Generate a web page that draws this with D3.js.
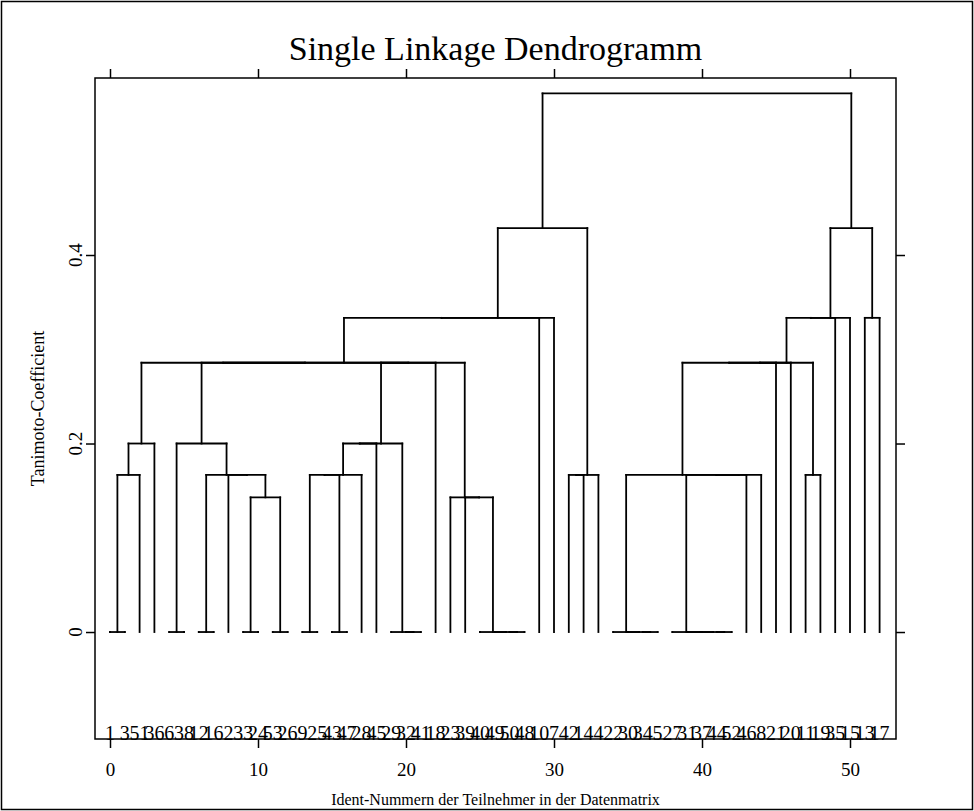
<!DOCTYPE html>
<html>
<head>
<meta charset="utf-8">
<script src="https://cdn.jsdelivr.net/npm/d3@7"></script>
<style>
  html, body { margin: 0; padding: 0; background: #fff; }
  svg { display: block; }
  text { font-family: "Liberation Serif", "DejaVu Serif", serif; fill: #000; }
</style>
</head>
<body>
<script>
// ---- data ----
const chartTitle = "Single Linkage Dendrogramm";
const xTitle = "Ident-Nummern der Teilnehmer in der Datenmatrix";
const yTitle = "Tanimoto-Coefficient";

// leaf labels in display order (leaf positions 0..52)
const leafLabels = [1, 3, 51, 36, 6, 38, 12, 16, 2, 33, 24, 53, 26, 9, 25, 43, 47, 28,
  45, 29, 32, 41, 18, 23, 39, 40, 49, 50, 48, 10, 7, 42, 14, 4, 22, 30,
  34, 5, 27, 31, 37, 44, 52, 46, 8, 21, 20, 11, 19, 35, 15, 13, 17];

// hclust-style merges: negative = leaf (-(position+1)), positive = earlier merge step (1-based)
const mergeA = [-1, -5, -7, -10, -12, -14, -16, -21, -20, -28, -27, -26, -37, -36, -35, -42, -41, -40, -39,
  4, -25, -24,
  1, -9, 3, 6, 26, -32, 28, 19, 30, 15, -48,
  23, 2, 27, 36,
  37, 35, 34, 40, 32, 42, 43,
  41, 45, 44, 47, -52,
  46, 48,
  50];
const mergeB = [-2, -6, -8, -11, -13, -15, -17, -22, 8, -29, 10, 11, -38, 13, 14, -43, 16, 17, 18,
  5, 12, 21,
  -3, 20, 24, 7, -18, -33, -34, -44, -45, 31, -49,
  -4, 25, -19, 9,
  -23, 38, 39, 22, -46, -47, 33,
  -30, -31, -50, -51, -53,
  29, 49,
  51];
const mergeHeight = [0, 0, 0, 0, 0, 0, 0, 0, 0, 0, 0, 0, 0, 0, 0, 0, 0, 0, 0,
  1/7, 1/7, 1/7,
  1/6, 1/6, 1/6, 1/6, 1/6, 1/6, 1/6, 1/6, 1/6, 1/6, 1/6,
  0.2, 0.2, 0.2, 0.2,
  2/7, 2/7, 2/7, 2/7, 2/7, 2/7, 2/7,
  1/3, 1/3, 1/3, 1/3, 1/3,
  3/7, 3/7,
  4/7];

const xTicks = [0, 10, 20, 30, 40, 50];
const yTicks = [0, 0.2, 0.4];
const yTickLabels = ["0", "0.2", "0.4"];

// ---- layout ----
const W = 974, H = 811;
const box = { left: 95, right: 896, top: 78, bottom: 739 };

const svg = d3.select("body").append("svg").attr("width", W).attr("height", H);

svg.append("rect").attr("x", 1.5).attr("y", 1.5).attr("width", W - 3).attr("height", H - 3)
  .attr("fill", "none").attr("stroke", "#000").attr("stroke-width", 1.5);

const x = d3.scaleLinear().domain([-1.0135, 53.108]).range([box.left, box.right]);
const y = d3.scaleLinear().domain([-0.1135, 0.5878]).range([box.bottom, box.top]);

// compute node positions
const nodeX = [], nodeH = [];
function childPos(c) {
  if (c < 0) return { x: -c - 1, h: 0 };
  return { x: nodeX[c - 1], h: nodeH[c - 1] };
}
const segs = [];
mergeA.forEach((a, i) => {
  const pa = childPos(a), pb = childPos(mergeB[i]);
  const h = mergeHeight[i];
  nodeX[i] = (pa.x + pb.x) / 2;
  nodeH[i] = h;
  segs.push([pa.x, pa.h, pa.x, h]);
  segs.push([pb.x, pb.h, pb.x, h]);
  segs.push([pa.x, h, pb.x, h]);
});

const g = svg.append("g");
g.selectAll("line.seg").data(segs).join("line")
  .attr("class", "seg")
  .attr("x1", d => x(d[0])).attr("y1", d => y(d[1]))
  .attr("x2", d => x(d[2])).attr("y2", d => y(d[3]))
  .attr("stroke", "#000").attr("stroke-width", 1.8).attr("stroke-linecap", "square");

// box
svg.append("rect").attr("x", box.left).attr("y", box.top)
  .attr("width", box.right - box.left).attr("height", box.bottom - box.top)
  .attr("fill", "none").attr("stroke", "#000").attr("stroke-width", 1.5);

// axes
const tick = 9;
const axB = d3.axisBottom(x).tickValues(xTicks).tickSize(tick).tickPadding(15).tickFormat(d3.format("d"));
const axT = d3.axisTop(x).tickValues(xTicks).tickSize(tick).tickFormat("");
const axL = d3.axisLeft(y).tickValues(yTicks).tickSize(tick).tickFormat("");
const axR = d3.axisRight(y).tickValues(yTicks).tickSize(tick).tickFormat("");

function style(sel) {
  sel.select(".domain").remove();
  sel.selectAll(".tick line").attr("stroke", "#000").attr("stroke-width", 1.5);
  sel.selectAll("text").style("font-family", "Liberation Serif, serif").style("font-size", "19px").attr("fill", "#000");
}
svg.append("g").attr("transform", `translate(0,${box.bottom})`).call(axB).call(style);
svg.append("g").attr("transform", `translate(0,${box.top})`).call(axT).call(style);
svg.append("g").attr("transform", `translate(${box.left},0)`).call(axL).call(style);
svg.append("g").attr("transform", `translate(${box.right},0)`).call(axR).call(style);

// y tick labels (rotated)
svg.selectAll("text.ytl").data(yTicks).join("text")
  .attr("class", "ytl")
  .attr("transform", (d) => `translate(82,${y(d)}) rotate(-90)`)
  .attr("text-anchor", "middle")
  .style("font-size", "19px")
  .text((d, i) => yTickLabels[i]);

// leaf labels
svg.selectAll("text.leaf").data(leafLabels).join("text")
  .attr("class", "leaf")
  .attr("x", (d, i) => x(i))
  .attr("y", box.bottom + 1)
  .attr("text-anchor", "middle")
  .style("font-size", "20px")
  .text(d => d);

// titles
svg.append("text").attr("x", (box.left + box.right) / 2).attr("y", 60)
  .attr("text-anchor", "middle").style("font-size", "34px").text(chartTitle);
svg.append("text").attr("x", (box.left + box.right) / 2).attr("y", 805)
  .attr("text-anchor", "middle").style("font-size", "16px").text(xTitle);
svg.append("text").attr("transform", `translate(44,${(box.top + box.bottom) / 2}) rotate(-90)`)
  .attr("text-anchor", "middle").style("font-size", "18px").text(yTitle);
</script>
</body>
</html>
